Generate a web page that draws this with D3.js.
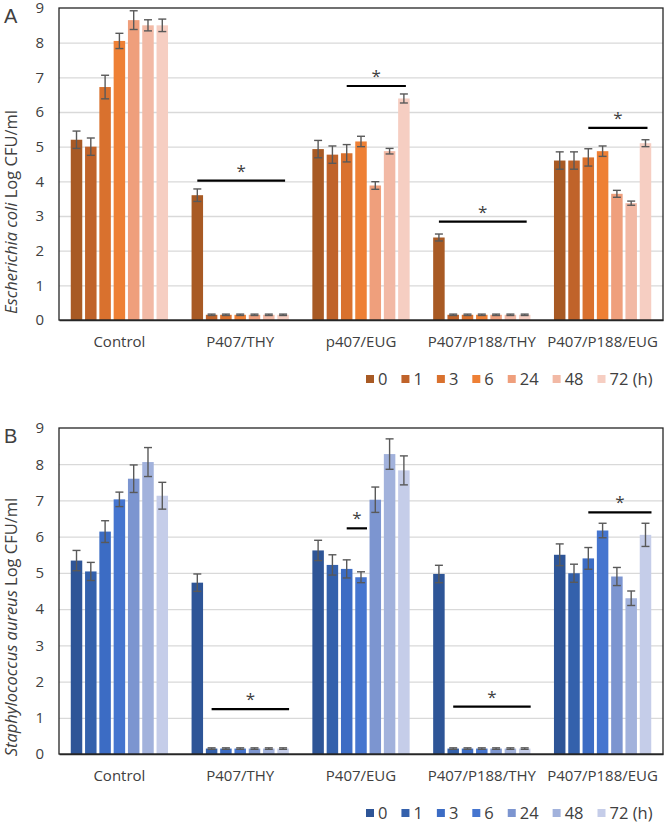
<!DOCTYPE html>
<html>
<head>
<meta charset="utf-8">
<script src="https://cdn.jsdelivr.net/npm/d3@7"></script>
<style>
  body { margin: 0; background: #fff; }
  svg text { font-family: "Open Sans", sans-serif; fill: #404040; }
</style>
</head>
<body>
<script>
// time points (legend)
const times = ["0", "1", "3", "6", "24", "48", "72"];

// panel A - E. coli
const groupsA = ["Control", "P407/THY", "p407/EUG", "P407/P188/THY", "P407/P188/EUG"];
const ecoliMean = [
  [5.2, 5.0, 6.72, 8.05, 8.65, 8.5, 8.5],
  [3.6, 0.15, 0.15, 0.15, 0.15, 0.15, 0.15],
  [4.93, 4.77, 4.81, 5.15, 3.88, 4.87, 6.39],
  [2.38, 0.15, 0.15, 0.15, 0.15, 0.15, 0.15],
  [4.6, 4.6, 4.69, 4.87, 3.64, 3.37, 5.1]
];
const ecoliErr = [
  [0.25, 0.25, 0.34, 0.22, 0.27, 0.16, 0.18],
  [0.18, 0.02, 0.02, 0.02, 0.02, 0.02, 0.02],
  [0.25, 0.25, 0.25, 0.15, 0.11, 0.08, 0.13],
  [0.1, 0.02, 0.02, 0.02, 0.02, 0.02, 0.02],
  [0.25, 0.25, 0.25, 0.15, 0.1, 0.06, 0.1]
];
// significance bars: group, first and last time index, level
const sigA = [
  {group: "P407/THY", from: 0, to: 6, level: 4.02},
  {group: "p407/EUG", from: 2, to: 6, level: 6.75},
  {group: "P407/P188/THY", from: 0, to: 6, level: 2.84},
  {group: "P407/P188/EUG", from: 2, to: 6, level: 5.54}
];

// panel B - S. aureus
const groupsB = ["Control", "P407/THY", "P407/EUG", "P407/P188/THY", "P407/P188/EUG"];
const aureusMean = [
  [5.34, 5.04, 6.14, 7.03, 7.6, 8.06, 7.13],
  [4.73, 0.15, 0.15, 0.15, 0.15, 0.15, 0.15],
  [5.62, 5.22, 5.11, 4.88, 7.02, 8.28, 7.83],
  [4.97, 0.15, 0.15, 0.15, 0.15, 0.15, 0.15],
  [5.5, 4.99, 5.4, 6.17, 4.9, 4.3, 6.05]
];
const aureusErr = [
  [0.28, 0.25, 0.3, 0.2, 0.38, 0.4, 0.37],
  [0.24, 0.02, 0.02, 0.02, 0.02, 0.02, 0.02],
  [0.28, 0.28, 0.25, 0.15, 0.35, 0.42, 0.4],
  [0.24, 0.02, 0.02, 0.02, 0.02, 0.02, 0.02],
  [0.3, 0.25, 0.3, 0.2, 0.25, 0.2, 0.32]
];
const sigB = [
  {group: "P407/THY", from: 1, to: 6, level: 1.24},
  {group: "P407/EUG", from: 2, to: 3, level: 6.23},
  {group: "P407/P188/THY", from: 1, to: 6, level: 1.31},
  {group: "P407/P188/EUG", from: 2, to: 6, level: 6.67}
];

const yTicks = [0, 1, 2, 3, 4, 5, 6, 7, 8, 9];

const orangeColors = ["#a85a24", "#c0632a", "#d9712e", "#ee8035", "#ef9f7c", "#f2b9a5", "#f6cec2"];
const blueColors = ["#2e5597", "#3461ac", "#3c6cc4", "#4575cf", "#7c95d0", "#a2b2dc", "#c5cde9"];

const svg = d3.select("body").append("svg")
  .attr("width", 666)
  .attr("height", 824);

function drawPanel(opt) {
  const left = 59, right = 663;
  const x0 = d3.scaleBand().domain(opt.groups).range([left, right]).padding(0);
  const x1 = d3.scaleBand().domain(times).range([0, x0.bandwidth()])
    .paddingInner(0.196).paddingOuter(0.823);
  const y = d3.scaleLinear().domain([0, 9]).range([opt.bottom, opt.top]);
  const color = d3.scaleOrdinal().domain(times).range(opt.colors);

  const g = svg.append("g");

  // gridlines
  g.append("g")
    .attr("transform", `translate(${left},0)`)
    .call(d3.axisLeft(y).tickValues(yTicks.slice(1, -1)).tickSize(-(right - left)).tickFormat(""))
    .call(a => a.select(".domain").remove())
    .call(a => a.selectAll("line").attr("stroke", "#d9d9d9").attr("stroke-width", 1.3));

  // y tick labels
  g.append("g")
    .attr("transform", `translate(${left},0)`)
    .call(d3.axisLeft(y).tickValues(yTicks).tickSize(0).tickPadding(15))
    .call(a => a.select(".domain").remove())
    .call(a => a.selectAll("text").style("font-size", "15px").attr("fill", "#404040")
      .style("font-family", "'Open Sans', sans-serif"));

  // bars
  const rows = opt.groups.map((gr, i) => ({group: gr, vals: opt.mean[i], errs: opt.err[i]}));
  const grp = g.selectAll("g.grp").data(rows).enter()
    .append("g").attr("class", "grp")
    .attr("transform", d => `translate(${x0(d.group)},0)`);

  const cells = d => times.map((t, j) => ({t: t, v: d.vals[j], e: d.errs[j]}));

  grp.selectAll("rect").data(cells).enter()
    .append("rect")
    .attr("x", d => x1(d.t))
    .attr("width", x1.bandwidth())
    .attr("y", d => y(d.v))
    .attr("height", d => y(0) - y(d.v))
    .attr("fill", d => color(d.t));

  // error bars
  const cap = 4;
  const eb = grp.selectAll("g.eb").data(cells).enter()
    .append("g").attr("class", "eb")
    .attr("stroke", "#595959").attr("stroke-width", 1.4);
  eb.append("line")
    .attr("x1", d => x1(d.t) + x1.bandwidth() / 2)
    .attr("x2", d => x1(d.t) + x1.bandwidth() / 2)
    .attr("y1", d => y(d.v + d.e))
    .attr("y2", d => y(d.v - d.e));
  eb.append("line")
    .attr("x1", d => x1(d.t) + x1.bandwidth() / 2 - cap)
    .attr("x2", d => x1(d.t) + x1.bandwidth() / 2 + cap)
    .attr("y1", d => y(d.v + d.e))
    .attr("y2", d => y(d.v + d.e));
  eb.append("line")
    .attr("x1", d => x1(d.t) + x1.bandwidth() / 2 - cap)
    .attr("x2", d => x1(d.t) + x1.bandwidth() / 2 + cap)
    .attr("y1", d => y(d.v - d.e))
    .attr("y2", d => y(d.v - d.e));

  // plot frame + x axis
  g.append("rect")
    .attr("x", left).attr("y", opt.top)
    .attr("width", right - left).attr("height", opt.bottom - opt.top)
    .attr("fill", "none").attr("stroke", "#262626").attr("stroke-width", 1.3);

  g.append("g")
    .attr("transform", `translate(0,${opt.bottom})`)
    .call(d3.axisBottom(x0).tickSize(0).tickPadding(16))
    .call(a => a.select(".domain").attr("stroke", "#262626").attr("stroke-width", 1.6))
    .call(a => a.selectAll("text").style("font-size", "15px").attr("fill", "#404040")
      .style("font-family", "'Open Sans', sans-serif"));

  // significance lines
  const mid = t => x1(t) + x1.bandwidth() / 2;
  const sg = g.selectAll("g.sig").data(opt.sig).enter()
    .append("g").attr("class", "sig");
  sg.append("line")
    .attr("x1", d => x0(d.group) + mid(times[d.from]))
    .attr("x2", d => x0(d.group) + mid(times[d.to]) + opt.sigExtend)
    .attr("y1", d => y(d.level))
    .attr("y2", d => y(d.level))
    .attr("stroke", "#000").attr("stroke-width", 2.2);
  sg.append("text")
    .attr("x", d => (x0(d.group) + mid(times[d.from]) + x0(d.group) + mid(times[d.to]) + opt.sigExtend) / 2)
    .attr("y", d => y(d.level) - 4)
    .attr("text-anchor", "middle")
    .style("font-size", "17px")
    .attr("fill", "#000")
    .text("*");

  // y title
  const tt = g.append("text")
    .attr("transform", `translate(${opt.titleX},${opt.titleY}) rotate(-90)`)
    .attr("text-anchor", "middle")
    .style("font-size", "16.5px");
  tt.append("tspan").style("font-style", "italic").text(opt.species);
  tt.append("tspan").text(" Log CFU/ml");

  // panel letter
  g.append("text")
    .attr("x", 4).attr("y", opt.top + 15)
    .style("font-family", "'Liberation Sans', Arial, sans-serif")
    .style("font-size", "20px")
    .attr("fill", "#000")
    .text(opt.letter);

  // legend
  const lg = g.append("g").attr("transform", `translate(366,${opt.legendY})`);
  let lx = 0;
  times.forEach((t, i) => {
    lg.append("rect")
      .attr("x", lx).attr("y", -4)
      .attr("width", 8).attr("height", 8)
      .attr("fill", color(t));
    const label = i === times.length - 1 ? t + " (h)" : t;
    const txt = lg.append("text")
      .attr("x", lx + 12).attr("y", 5.5)
      .style("font-size", "16.5px")
      .text(label);
    lx += 12 + txt.node().getComputedTextLength() + 14;
  });
}

drawPanel({
  letter: "A", species: "Escherichia coli", groups: groupsA,
  mean: ecoliMean, err: ecoliErr, sig: sigA, colors: orangeColors,
  top: 8, bottom: 320, legendY: 379, titleX: 17, titleY: 212, sigExtend: 2
});

drawPanel({
  letter: "B", species: "Staphylococcus aureus", groups: groupsB,
  mean: aureusMean, err: aureusErr, sig: sigB, colors: blueColors,
  top: 428, bottom: 754, legendY: 813, titleX: 17, titleY: 627, sigExtend: 6
});
</script>
</body>
</html>
